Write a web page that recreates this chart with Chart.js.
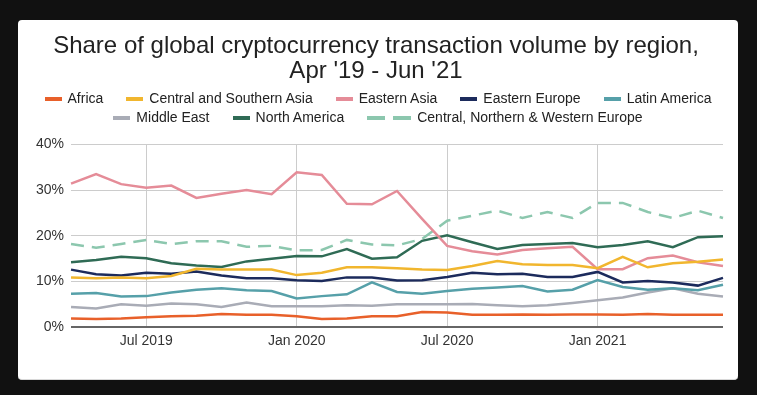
<!DOCTYPE html>
<html>
<head>
<meta charset="utf-8">
<script src="https://cdn.jsdelivr.net/npm/chart.js@4.4.1/dist/chart.umd.min.js"></script>
<style>
  html, body { margin: 0; padding: 0; background: #111111; width: 757px; height: 395px; overflow: hidden; }
  #panel { position: absolute; left: 18px; top: 20px; width: 720px; height: 360px; background: #ffffff; border-radius: 4px; border-bottom: 1px solid #d8d8d8; box-sizing: border-box; }
  #chart { position: absolute; left: 0; top: 0; }
  #legend { position: absolute; left: 0; top: 69px; width: 720px; font-family: "Liberation Sans", Arial, sans-serif; font-size: 14px; color: #222; }
  .row { display: flex; justify-content: center; height: 19px; line-height: 19px; }
  .item { display: flex; align-items: center; margin: 0 11.5px; white-space: nowrap; }
  .sw { display: inline-block; width: 17px; height: 4px; margin-right: 6px; }
  .sw2 { display: inline-block; width: 18px; height: 4px; }
</style>
</head>
<body>
<div id="panel">
  <canvas id="chart" width="720" height="360"></canvas>
  <div id="legend"></div>
</div>
<script>
const titleLines = ["Share of global cryptocurrency transaction volume by region,", "Apr '19 - Jun '21"];
const months = ["Apr 2019","May 2019","Jun 2019","Jul 2019","Aug 2019","Sep 2019","Oct 2019","Nov 2019","Dec 2019",
  "Jan 2020","Feb 2020","Mar 2020","Apr 2020","May 2020","Jun 2020","Jul 2020","Aug 2020","Sep 2020","Oct 2020","Nov 2020","Dec 2020",
  "Jan 2021","Feb 2021","Mar 2021","Apr 2021","May 2021","Jun 2021"];
const shownTicks = ["Jul 2019","Jan 2020","Jul 2020","Jan 2021"];
const yTicks = [0, 10, 20, 30, 40];

const seriesNames = ["Africa","Central and Southern Asia","Eastern Asia","Eastern Europe","Latin America","Middle East","North America","Central, Northern & Western Europe"];
const africa    = [1.9,1.8,1.9,2.2,2.4,2.5,2.9,2.7,2.7,2.4,1.8,1.9,2.4,2.4,3.3,3.2,2.7,2.7,2.8,2.7,2.8,2.8,2.7,2.9,2.7,2.7,2.7];
const csAsia    = [10.9,10.7,10.9,10.7,11.2,12.8,12.6,12.6,12.6,11.4,11.9,13.1,13.1,12.9,12.6,12.5,13.4,14.5,13.8,13.6,13.6,12.9,15.4,13.1,14.0,14.3,14.8];
const eAsia     = [31.4,33.5,31.3,30.5,31.0,28.3,29.2,30.0,29.1,33.9,33.3,27.0,26.9,29.8,23.7,17.8,16.6,15.9,16.9,17.3,17.6,12.7,12.7,15.1,15.7,14.2,13.4];
const eEurope   = [12.6,11.6,11.3,11.9,11.7,12.2,11.3,10.7,10.7,10.3,10.1,10.9,10.9,10.2,10.3,11.0,11.9,11.6,11.7,11.0,11.0,12.1,9.8,10.1,9.8,9.1,10.8];
const latAm     = [7.3,7.5,6.7,6.8,7.6,8.2,8.5,8.1,7.9,6.3,6.8,7.2,9.8,7.7,7.3,7.9,8.4,8.7,9.0,7.8,8.2,10.3,8.8,8.2,8.5,8.1,9.3];
const midEast   = [4.4,4.1,5.0,4.7,5.2,5.0,4.4,5.4,4.6,4.6,4.6,4.8,4.7,5.0,5.0,5.0,5.1,4.8,4.6,4.8,5.3,5.9,6.5,7.6,8.5,7.3,6.7];
const nAmerica  = [14.2,14.7,15.4,15.1,14.0,13.5,13.2,14.4,15.0,15.6,15.5,17.1,15.0,15.3,18.9,20.1,18.6,17.1,18.0,18.2,18.4,17.5,18.0,18.8,17.5,19.7,19.9];
const cnwEurope = [18.2,17.4,18.2,19.1,18.2,18.8,18.8,17.6,17.8,16.8,16.9,19.1,18.1,17.9,19.3,23.3,24.4,25.5,23.9,25.2,23.9,27.2,27.2,25.2,23.9,25.5,23.9];

const seriesData = [africa, csAsia, eAsia, eEurope, latAm, midEast, nAmerica, cnwEurope];
const colors = ["#e8602a","#f1b62e","#e58c98","#1c2b5c","#56a0a9","#a9acb6","#2f6b55","#8cc7ae"];
const dashed = [false,false,false,false,false,false,false,true];

const FONT = '"Liberation Sans", Arial, sans-serif';

const datasets = seriesNames.map((name, i) => ({
  label: name,
  data: seriesData[i],
  borderColor: colors[i],
  backgroundColor: colors[i],
  borderWidth: 2.5,
  borderDash: dashed[i] ? [13, 8] : [],
  pointRadius: 0,
  tension: 0,
  fill: false
}));

new Chart(document.getElementById('chart'), {
  type: 'line',
  data: { labels: months, datasets: datasets },
  options: {
    responsive: false,
    animation: false,
    devicePixelRatio: 1,
    layout: { padding: { left: 11, right: 15, top: 0, bottom: 24 } },
    plugins: {
      legend: { display: false },
      tooltip: { enabled: false },
      title: {
        display: true,
        text: titleLines,
        color: '#222',
        font: { family: FONT, size: 24, weight: 'normal', lineHeight: 1.05 },
        padding: { top: 14, bottom: 60 }
      }
    },
    scales: {
      x: {
        grid: {
          color: ctx => (ctx.tick && shownTicks.includes(months[ctx.index])) ? '#cccccc' : 'rgba(0,0,0,0)',
          lineWidth: 1,
          drawTicks: false
        },
        border: { display: false },
        ticks: {
          autoSkip: false,
          maxRotation: 0,
          minRotation: 0,
          padding: 6,
          color: '#333',
          font: { family: FONT, size: 14 },
          callback: function(val, idx) { const l = months[idx]; return shownTicks.includes(l) ? l : ''; }
        }
      },
      y: {
        min: 0,
        max: 40,
        afterBuildTicks: axis => { axis.ticks = yTicks.map(v => ({ value: v })); },
        grid: {
          color: ctx => ctx.tick.value === 0 ? '#666666' : '#cccccc',
          lineWidth: ctx => ctx.tick.value === 0 ? 2 : 1,
          drawTicks: false
        },
        border: { display: false },
        ticks: {
          padding: 7,
          color: '#333',
          font: { family: FONT, size: 14 },
          callback: v => v + '%'
        }
      }
    }
  }
});

// Legend (HTML, built from the same series arrays)
const legendRows = [[0,1,2,3,4],[5,6,7]];
const legend = document.getElementById('legend');
legendRows.forEach(r => {
  const row = document.createElement('div');
  row.className = 'row';
  r.forEach(i => {
    const item = document.createElement('div');
    item.className = 'item';
    if (dashed[i]) {
      const a = document.createElement('span'); a.className = 'sw2'; a.style.background = colors[i]; a.style.marginRight = '8px';
      const b = document.createElement('span'); b.className = 'sw2'; b.style.background = colors[i]; b.style.marginRight = '6px';
      item.appendChild(a); item.appendChild(b);
    } else {
      const s = document.createElement('span'); s.className = 'sw'; s.style.background = colors[i];
      item.appendChild(s);
    }
    const t = document.createElement('span');
    t.textContent = seriesNames[i];
    item.appendChild(t);
    row.appendChild(item);
  });
  legend.appendChild(row);
});
</script>
</body>
</html>
